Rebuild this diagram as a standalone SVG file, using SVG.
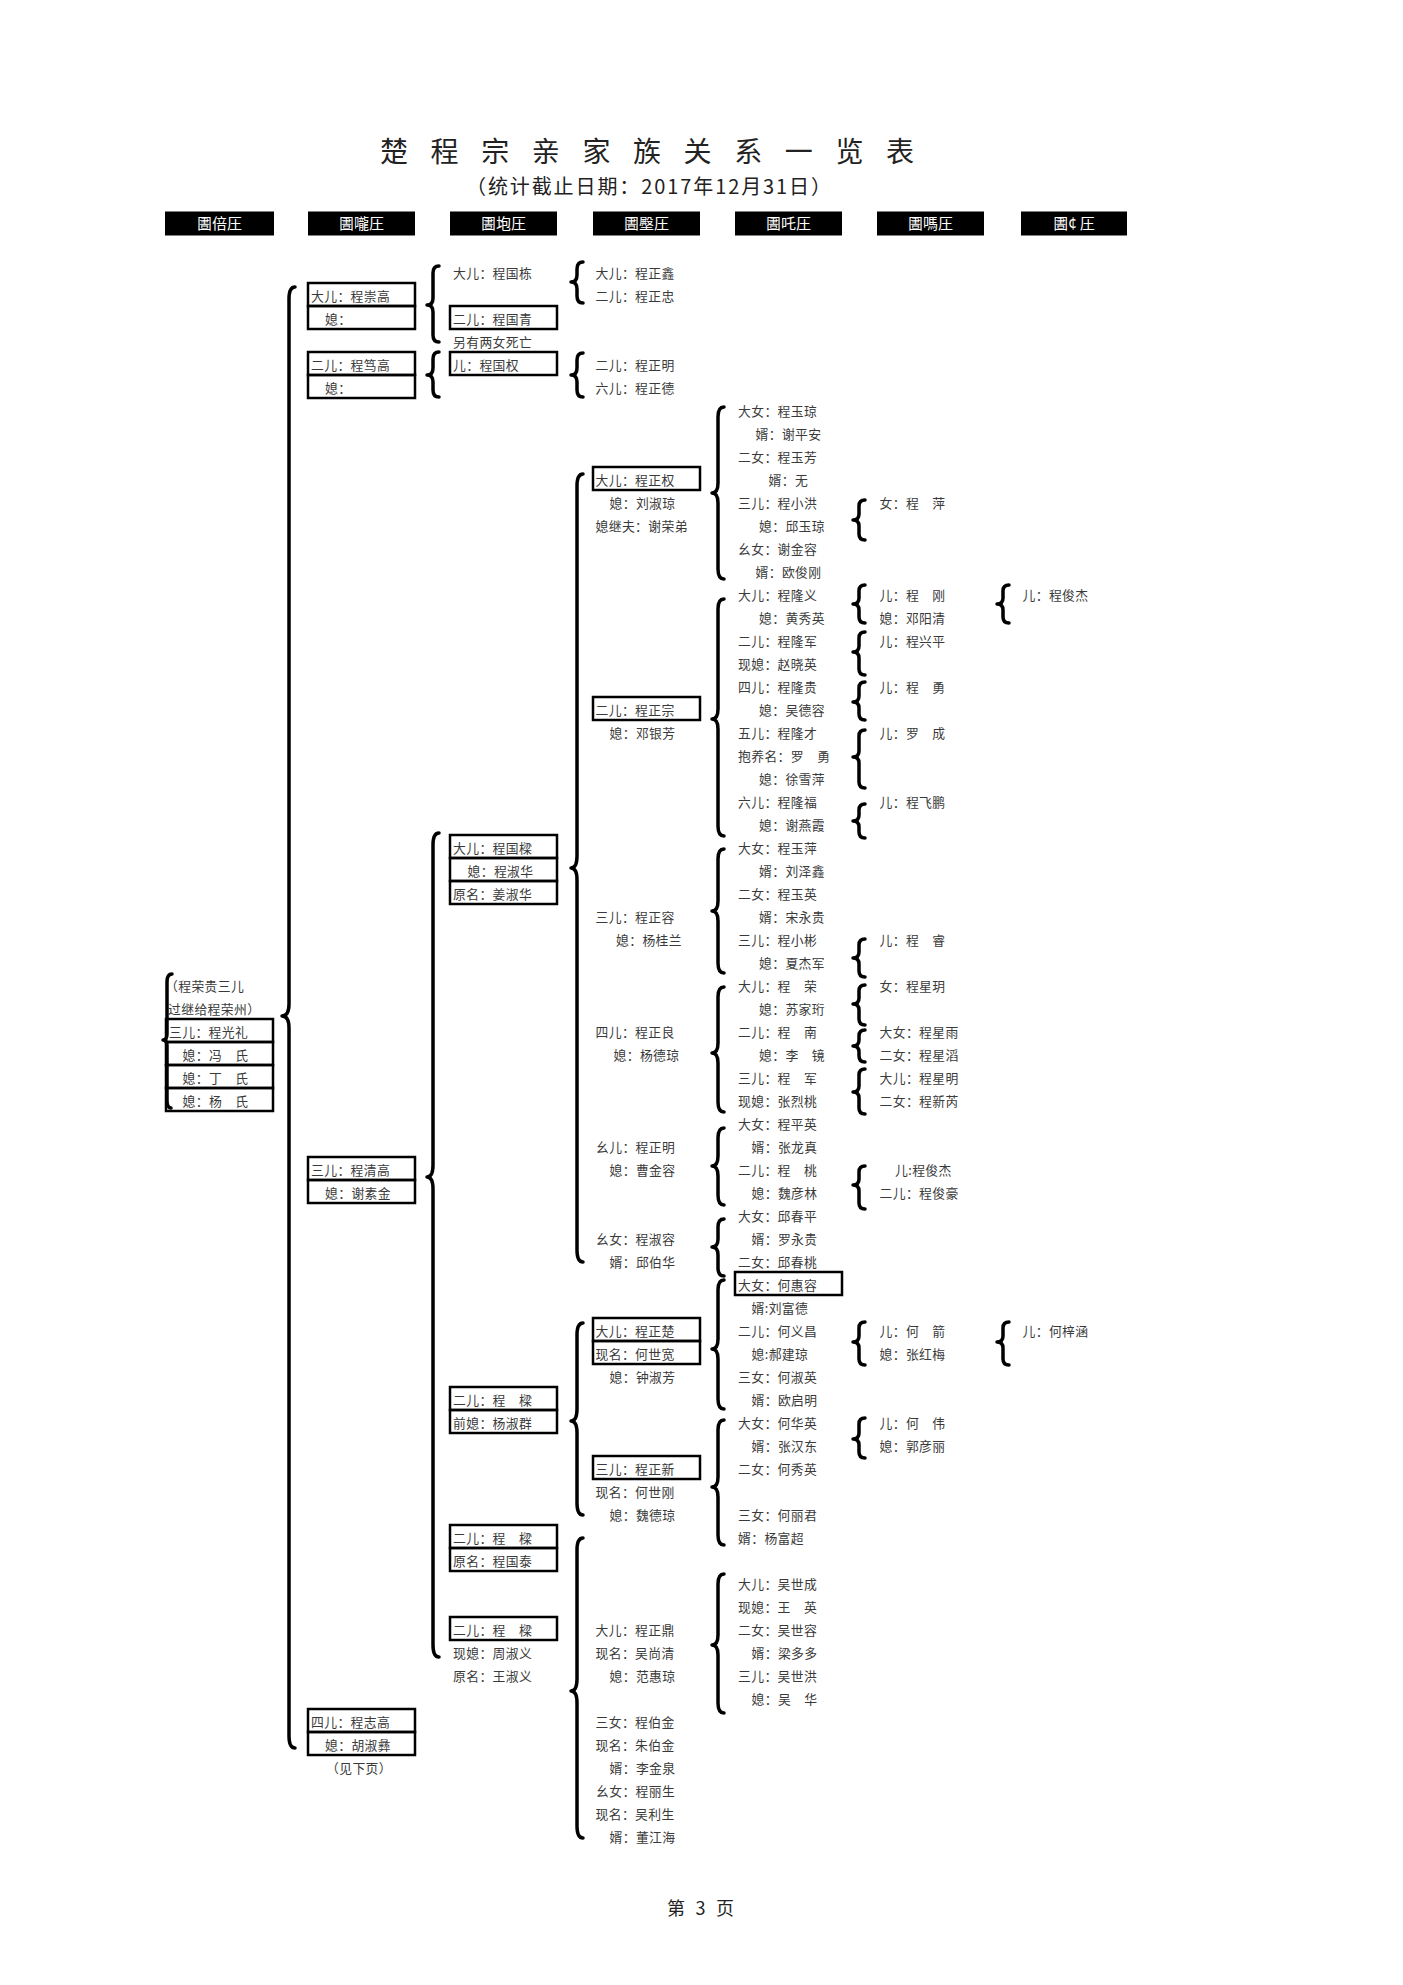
<svg xmlns="http://www.w3.org/2000/svg" width="1403" height="1985" viewBox="0 0 1403 1985">
<style>
text{font-family:"Noto Sans CJK SC","Liberation Sans",sans-serif;}
.t{font-size:12.8px;letter-spacing:0.4px;fill:#3a3a3a;}
.bx{fill:none;stroke:#000;stroke-width:2.5;}
.br{fill:none;stroke:#000;stroke-width:3.5;stroke-linecap:round;stroke-linejoin:round;}
.hd{fill:#000;}
.ht{font-size:15px;fill:#fff;text-anchor:middle;}
</style>
<rect width="1403" height="1985" fill="#fff"/>
<g id="title">
<text x="380" y="162" font-size="28" fill="#222" textLength="534" lengthAdjust="spacing">楚 程 宗 亲 家 族 关 系 一 览 表</text>
<text x="466" y="194" font-size="20" fill="#222" textLength="365" lengthAdjust="spacing">（统计截止日期：2017年12月31日）</text>
</g>
<g id="headers">
<rect class="hd" x="165" y="211.5" width="109" height="24"/><text class="ht" x="219.5" y="228.5">圕倍圧</text>
<rect class="hd" x="308" y="211.5" width="107" height="24"/><text class="ht" x="361.5" y="228.5">圕嚨圧</text>
<rect class="hd" x="450" y="211.5" width="107" height="24"/><text class="ht" x="503.5" y="228.5">圕垉圧</text>
<rect class="hd" x="593" y="211.5" width="107" height="24"/><text class="ht" x="646.5" y="228.5">圕壂圧</text>
<rect class="hd" x="735" y="211.5" width="107" height="24"/><text class="ht" x="788.5" y="228.5">圕吒圧</text>
<rect class="hd" x="877" y="211.5" width="107" height="24"/><text class="ht" x="930.5" y="228.5">圕嗎圧</text>
<rect class="hd" x="1021" y="211.5" width="106" height="24"/><text class="ht" x="1074" y="228.5">圕¢ 圧</text>
</g>
<g id="connectors">
<path class="br" d="M295,287 Q289,287 289,299 L289,1004 Q289,1016 282,1016 Q289,1016 289,1028 L289,1736 Q289,1748 295,1748"/>
<path class="br" d="M172,974 Q167,974 167,982 L167,1034 Q167,1040 163,1040 Q167,1040 167,1046 L167,1100 Q167,1108 171,1108"/>
<path class="br" d="M439,266 Q433,266 433,273 L433,298 Q433,305 427,305 Q433,305 433,312 L433,335 Q433,342 439,342"/>
<path class="br" d="M439,352 Q433,352 433,359 L433,368 Q433,375 427,375 Q433,375 433,382 L433,390 Q433,397 439,397"/>
<path class="br" d="M439,833 Q433,833 433,845 L433,1165 Q433,1177 427,1177 Q433,1177 433,1189 L433,1645 Q433,1657 439,1657"/>
<path class="br" d="M583,262 Q577,262 577,269 L577,275 Q577,282 571,282 Q577,282 577,289 L577,296 Q577,303 583,303"/>
<path class="br" d="M583,353 Q577,353 577,360 L577,368 Q577,375 571,375 Q577,375 577,382 L577,390 Q577,397 583,397"/>
<path class="br" d="M583,474 Q577,474 577,486 L577,856 Q577,868 571,868 Q577,868 577,880 L577,1250 Q577,1262 583,1262"/>
<path class="br" d="M583,1323 Q577,1323 577,1335 L577,1409 Q577,1421 571,1421 Q577,1421 577,1433 L577,1503 Q577,1515 583,1515"/>
<path class="br" d="M583,1538 Q577,1538 577,1550 L577,1679 Q577,1691 571,1691 Q577,1691 577,1703 L577,1826 Q577,1838 583,1838"/>
<path class="br" d="M724,407 Q718,407 718,417 L718,483 Q718,493 712,493 Q718,493 718,503 L718,569 Q718,579 724,579"/>
<path class="br" d="M724,599 Q718,599 718,609 L718,709 Q718,719 712,719 Q718,719 718,729 L718,826 Q718,836 724,836"/>
<path class="br" d="M724,849 Q718,849 718,859 L718,901 Q718,911 712,911 Q718,911 718,921 L718,963 Q718,973 724,973"/>
<path class="br" d="M724,987 Q718,987 718,997 L718,1043 Q718,1053 712,1053 Q718,1053 718,1063 L718,1102 Q718,1112 724,1112"/>
<path class="br" d="M724,1128 Q718,1128 718,1138 L718,1156 Q718,1166 712,1166 Q718,1166 718,1176 L718,1195 Q718,1205 724,1205"/>
<path class="br" d="M724,1219 Q718,1219 718,1227 L718,1239 Q718,1247 712,1247 Q718,1247 718,1255 L718,1268 Q718,1276 724,1276"/>
<path class="br" d="M724,1280 Q718,1280 718,1290 L718,1339 Q718,1349 712,1349 Q718,1349 718,1359 L718,1399 Q718,1409 724,1409"/>
<path class="br" d="M724,1420 Q718,1420 718,1430 L718,1477 Q718,1487 712,1487 Q718,1487 718,1497 L718,1535 Q718,1545 724,1545"/>
<path class="br" d="M724,1574 Q718,1574 718,1584 L718,1635 Q718,1645 712,1645 Q718,1645 718,1655 L718,1703 Q718,1713 724,1713"/>
<path class="br" d="M865,500 Q859,500 859,506 L859,514 Q859,520 853,520 Q859,520 859,526 L859,534 Q859,540 865,540"/>
<path class="br" d="M865,585 Q859,585 859,591 L859,598 Q859,604 853,604 Q859,604 859,610 L859,617 Q859,623 865,623"/>
<path class="br" d="M865,632 Q859,632 859,638 L859,646 Q859,652 853,652 Q859,652 859,658 L859,669 Q859,675 865,675"/>
<path class="br" d="M865,682 Q859,682 859,688 L859,696 Q859,702 853,702 Q859,702 859,708 L859,714 Q859,720 865,720"/>
<path class="br" d="M865,730 Q859,730 859,736 L859,751 Q859,757 853,757 Q859,757 859,763 L859,782 Q859,788 865,788"/>
<path class="br" d="M865,804 Q859,804 859,810 L859,815 Q859,821 853,821 Q859,821 859,827 L859,832 Q859,838 865,838"/>
<path class="br" d="M865,939 Q859,939 859,945 L859,952 Q859,958 853,958 Q859,958 859,964 L859,971 Q859,977 865,977"/>
<path class="br" d="M865,985 Q859,985 859,991 L859,998 Q859,1004 853,1004 Q859,1004 859,1010 L859,1019 Q859,1025 865,1025"/>
<path class="br" d="M865,1030 Q859,1030 859,1036 L859,1040 Q859,1046 853,1046 Q859,1046 859,1052 L859,1056 Q859,1062 865,1062"/>
<path class="br" d="M865,1069 Q859,1069 859,1075 L859,1086 Q859,1092 853,1092 Q859,1092 859,1098 L859,1108 Q859,1114 865,1114"/>
<path class="br" d="M865,1166 Q859,1166 859,1172 L859,1179 Q859,1185 853,1185 Q859,1185 859,1191 L859,1203 Q859,1209 865,1209"/>
<path class="br" d="M865,1322 Q859,1322 859,1328 L859,1336 Q859,1342 853,1342 Q859,1342 859,1348 L859,1359 Q859,1365 865,1365"/>
<path class="br" d="M865,1418 Q859,1418 859,1424 L859,1433 Q859,1439 853,1439 Q859,1439 859,1445 L859,1452 Q859,1458 865,1458"/>
<path class="br" d="M1009,585 Q1003,585 1003,591 L1003,598 Q1003,604 997,604 Q1003,604 1003,610 L1003,617 Q1003,623 1009,623"/>
<path class="br" d="M1009,1322 Q1003,1322 1003,1328 L1003,1336 Q1003,1342 997,1342 Q1003,1342 1003,1348 L1003,1359 Q1003,1365 1009,1365"/>
</g>
<g id="n-chengguangli">
<text class="t" x="165" y="990.5">（程荣贵三儿</text>
<text class="t" x="168" y="1013.5">过继给程荣州）</text>
<rect class="bx" x="166" y="1019" width="107" height="23"/>
<rect class="bx" x="166" y="1042" width="107" height="23"/>
<rect class="bx" x="166" y="1065" width="107" height="23"/>
<rect class="bx" x="166" y="1088" width="107" height="23"/>
<text class="t" x="169" y="1036.5">三儿：程光礼</text>
<text class="t" x="182.5" y="1059.5">媳：冯　氏</text>
<text class="t" x="182.5" y="1082.5">媳：丁　氏</text>
<text class="t" x="182.5" y="1105.5">媳：杨　氏</text>
</g>
<g id="n-chengchonggao">
<rect class="bx" x="308" y="283" width="107" height="23"/>
<rect class="bx" x="308" y="306" width="107" height="23"/>
<text class="t" x="311" y="300.5">大儿：程崇高</text>
<text class="t" x="325" y="323.5">媳：</text>
</g>
<g id="n-chengdugao">
<rect class="bx" x="308" y="352" width="107" height="23"/>
<rect class="bx" x="308" y="375" width="107" height="23"/>
<text class="t" x="311" y="369.5">二儿：程笃高</text>
<text class="t" x="325" y="392.5">媳：</text>
</g>
<g id="n-chengqinggao">
<rect class="bx" x="308" y="1157" width="107" height="23"/>
<rect class="bx" x="308" y="1180" width="107" height="23"/>
<text class="t" x="311" y="1174.5">三儿：程清高</text>
<text class="t" x="325" y="1197.5">媳：谢素金</text>
</g>
<g id="n-chengzhigao">
<rect class="bx" x="308" y="1709" width="107" height="23"/>
<rect class="bx" x="308" y="1732" width="107" height="23"/>
<text class="t" x="311" y="1726.5">四儿：程志高</text>
<text class="t" x="325" y="1749.5">媳：胡淑彝</text>
<text class="t" x="359" y="1772.5" text-anchor="middle">（见下页）</text>
</g>
<g id="n-col3-top">
<text class="t" x="453" y="277.5">大儿：程国栋</text>
<rect class="bx" x="450" y="306" width="107" height="23"/>
<text class="t" x="453" y="323.5">二儿：程国青</text>
<text class="t" x="453" y="346.5">另有两女死亡</text>
<rect class="bx" x="450" y="352" width="107" height="23"/>
<text class="t" x="453" y="369.5">儿：程国权</text>
</g>
<g id="n-chengguoliang">
<rect class="bx" x="450" y="835" width="107" height="23"/>
<rect class="bx" x="450" y="858" width="107" height="23"/>
<rect class="bx" x="450" y="881" width="107" height="23"/>
<text class="t" x="453" y="852.5">大儿：程国樑</text>
<text class="t" x="467.5" y="875.5">媳：程淑华</text>
<text class="t" x="453" y="898.5">原名：姜淑华</text>
</g>
<g id="n-chengliang-1">
<rect class="bx" x="450" y="1387" width="107" height="23"/>
<rect class="bx" x="450" y="1410" width="107" height="23"/>
<text class="t" x="453" y="1404.5">二儿：程　樑</text>
<text class="t" x="453" y="1427.5">前媳：杨淑群</text>
</g>
<g id="n-chengliang-2">
<rect class="bx" x="450" y="1525" width="107" height="23"/>
<rect class="bx" x="450" y="1548" width="107" height="23"/>
<text class="t" x="453" y="1542.5">二儿：程　樑</text>
<text class="t" x="453" y="1565.5">原名：程国泰</text>
</g>
<g id="n-chengliang-3">
<rect class="bx" x="450" y="1617" width="107" height="23"/>
<text class="t" x="453" y="1634.5">二儿：程　樑</text>
<text class="t" x="453" y="1657.5">现媳：周淑义</text>
<text class="t" x="453" y="1680.5">原名：王淑义</text>
</g>
<g id="n-col4-top">
<text class="t" x="595.5" y="277.5">大儿：程正鑫</text>
<text class="t" x="595.5" y="300.5">二儿：程正忠</text>
<text class="t" x="595.5" y="369.5">二儿：程正明</text>
<text class="t" x="595.5" y="392.5">六儿：程正德</text>
</g>
<g id="n-chengzhengquan">
<rect class="bx" x="593" y="467" width="107" height="23"/>
<text class="t" x="595.5" y="484.5">大儿：程正权</text>
<text class="t" x="609.5" y="507.5">媳：刘淑琼</text>
<text class="t" x="595.5" y="530.5">媳继夫：谢荣弟</text>
</g>
<g id="n-chengzhengzong">
<rect class="bx" x="593" y="697" width="107" height="23"/>
<text class="t" x="595.5" y="714.5">二儿：程正宗</text>
<text class="t" x="609.5" y="737.5">媳：邓银芳</text>
</g>
<g id="n-chengzhengrong">
<text class="t" x="595.5" y="921.5">三儿：程正容</text>
<text class="t" x="616" y="944.5">媳：杨桂兰</text>
</g>
<g id="n-chengzhengliang">
<text class="t" x="595.5" y="1036.5">四儿：程正良</text>
<text class="t" x="613.5" y="1059.5">媳：杨德琼</text>
</g>
<g id="n-chengzhengming">
<text class="t" x="596" y="1151.5">幺儿：程正明</text>
<text class="t" x="609.5" y="1174.5">媳：曹金容</text>
</g>
<g id="n-chengshurong">
<text class="t" x="596" y="1243.5">幺女：程淑容</text>
<text class="t" x="609.5" y="1266.5">婿：邱伯华</text>
</g>
<g id="n-chengzhengchu">
<rect class="bx" x="593" y="1318" width="107" height="23"/>
<rect class="bx" x="593" y="1341" width="107" height="23"/>
<text class="t" x="595.5" y="1335.5">大儿：程正楚</text>
<text class="t" x="595.5" y="1358.5">现名：何世宽</text>
<text class="t" x="609.5" y="1381.5">媳：钟淑芳</text>
</g>
<g id="n-chengzhengxin">
<rect class="bx" x="593" y="1456" width="107" height="23"/>
<text class="t" x="595.5" y="1473.5">三儿：程正新</text>
<text class="t" x="595.5" y="1496.5">现名：何世刚</text>
<text class="t" x="609.5" y="1519.5">媳：魏德琼</text>
</g>
<g id="n-chengzhengding">
<text class="t" x="595.5" y="1634.5">大儿：程正鼎</text>
<text class="t" x="595.5" y="1657.5">现名：吴尚清</text>
<text class="t" x="609.5" y="1680.5">媳：范惠琼</text>
<text class="t" x="595.5" y="1726.5">三女：程伯金</text>
<text class="t" x="595.5" y="1749.5">现名：朱伯金</text>
<text class="t" x="609.5" y="1772.5">婿：李金泉</text>
<text class="t" x="596" y="1795.5">幺女：程丽生</text>
<text class="t" x="595.5" y="1818.5">现名：吴利生</text>
<text class="t" x="609.5" y="1841.5">婿：董江海</text>
</g>
<g id="n-col5">
<text class="t" x="738" y="415.5">大女：程玉琼</text>
<text class="t" x="755.5" y="438.5">婿：谢平安</text>
<text class="t" x="738" y="461.5">二女：程玉芳</text>
<text class="t" x="768.5" y="484.5">婿：无</text>
<text class="t" x="738" y="507.5">三儿：程小洪</text>
<text class="t" x="759" y="530.5">媳：邱玉琼</text>
<text class="t" x="738" y="553.5">幺女：谢金容</text>
<text class="t" x="755.5" y="576.5">婿：欧俊刚</text>
<text class="t" x="738" y="599.5">大儿：程隆义</text>
<text class="t" x="759" y="622.5">媳：黄秀英</text>
<text class="t" x="738" y="645.5">二儿：程隆军</text>
<text class="t" x="738" y="668.5">现媳：赵晓英</text>
<text class="t" x="738" y="691.5">四儿：程隆贵</text>
<text class="t" x="759" y="714.5">媳：吴德容</text>
<text class="t" x="738" y="737.5">五儿：程隆才</text>
<text class="t" x="738" y="760.5">抱养名：罗　勇</text>
<text class="t" x="759" y="783.5">媳：徐雪萍</text>
<text class="t" x="738" y="806.5">六儿：程隆福</text>
<text class="t" x="759" y="829.5">媳：谢燕霞</text>
<text class="t" x="738" y="852.5">大女：程玉萍</text>
<text class="t" x="759" y="875.5">婿：刘泽鑫</text>
<text class="t" x="738" y="898.5">二女：程玉英</text>
<text class="t" x="759" y="921.5">婿：宋永贵</text>
<text class="t" x="738" y="944.5">三儿：程小彬</text>
<text class="t" x="759" y="967.5">媳：夏杰军</text>
<text class="t" x="738" y="990.5">大儿：程　荣</text>
<text class="t" x="759" y="1013.5">媳：苏家珩</text>
<text class="t" x="738" y="1036.5">二儿：程　南</text>
<text class="t" x="759" y="1059.5">媳：李　镜</text>
<text class="t" x="738" y="1082.5">三儿：程　军</text>
<text class="t" x="738" y="1105.5">现媳：张烈桃</text>
<text class="t" x="738" y="1128.5">大女：程平英</text>
<text class="t" x="751.5" y="1151.5">婿：张龙真</text>
<text class="t" x="738" y="1174.5">二儿：程　桃</text>
<text class="t" x="751.5" y="1197.5">媳：魏彦林</text>
<text class="t" x="738" y="1220.5">大女：邱春平</text>
<text class="t" x="751.5" y="1243.5">婿：罗永贵</text>
<text class="t" x="738" y="1266.5">二女：邱春桃</text>
<rect class="bx" x="735" y="1272" width="107" height="23"/>
<text class="t" x="738" y="1289.5">大女：何惠容</text>
<text class="t" x="751.5" y="1312.5">婿:刘富德</text>
<text class="t" x="738" y="1335.5">二儿：何义昌</text>
<text class="t" x="751.5" y="1358.5">媳:郝建琼</text>
<text class="t" x="738" y="1381.5">三女：何淑英</text>
<text class="t" x="751.5" y="1404.5">婿：欧启明</text>
<text class="t" x="738" y="1427.5">大女：何华英</text>
<text class="t" x="751.5" y="1450.5">婿：张汉东</text>
<text class="t" x="738" y="1473.5">二女：何秀英</text>
<text class="t" x="738" y="1519.5">三女：何丽君</text>
<text class="t" x="738" y="1542.5">婿：杨富超</text>
<text class="t" x="738" y="1588.5">大儿：吴世成</text>
<text class="t" x="738" y="1611.5">现媳：王　英</text>
<text class="t" x="738" y="1634.5">二女：吴世容</text>
<text class="t" x="751.5" y="1657.5">婿：梁多多</text>
<text class="t" x="738" y="1680.5">三儿：吴世洪</text>
<text class="t" x="751.5" y="1703.5">媳：吴　华</text>
</g>
<g id="n-col6">
<text class="t" x="879.5" y="507.5">女：程　萍</text>
<text class="t" x="879.5" y="599.5">儿：程　刚</text>
<text class="t" x="879.5" y="622.5">媳：邓阳清</text>
<text class="t" x="879.5" y="645.5">儿：程兴平</text>
<text class="t" x="879.5" y="691.5">儿：程　勇</text>
<text class="t" x="879.5" y="737.5">儿：罗　成</text>
<text class="t" x="879.5" y="806.5">儿：程飞鹏</text>
<text class="t" x="879.5" y="944.5">儿：程　睿</text>
<text class="t" x="879.5" y="990.5">女：程星玥</text>
<text class="t" x="879.5" y="1036.5">大女：程星雨</text>
<text class="t" x="879.5" y="1059.5">二女：程星滔</text>
<text class="t" x="879.5" y="1082.5">大儿：程星明</text>
<text class="t" x="879.5" y="1105.5">二女：程新芮</text>
<text class="t" x="895" y="1174.5">儿:程俊杰</text>
<text class="t" x="879.5" y="1197.5">二儿：程俊豪</text>
<text class="t" x="879.5" y="1335.5">儿：何　箭</text>
<text class="t" x="879.5" y="1358.5">媳：张红梅</text>
<text class="t" x="879.5" y="1427.5">儿：何　伟</text>
<text class="t" x="879.5" y="1450.5">媳：郭彦丽</text>
</g>
<g id="n-col7">
<text class="t" x="1022.5" y="599.5">儿：程俊杰</text>
<text class="t" x="1022.5" y="1335.5">儿：何梓涵</text>
</g>
<g id="footer">
<text x="667" y="1915" font-size="18" fill="#222" textLength="67" lengthAdjust="spacing">第 3 页</text>
</g>
</svg>
